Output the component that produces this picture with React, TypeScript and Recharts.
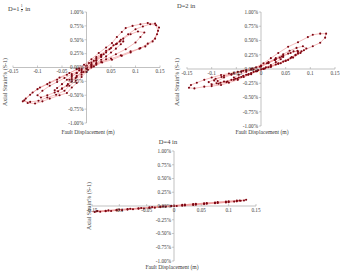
import { ReferenceLine, Scatter, ScatterChart, XAxis, YAxis } from 'recharts';
import type { CSSProperties } from 'react';

const PAGE_W = 344;
const PAGE_H = 272;
const FONT = '"Liberation Serif", "Times New Roman", serif';

const X_TICKS = [-0.15, -0.1, -0.05, 0, 0.05, 0.1, 0.15];
const Y_TICKS = [-1, -0.75, -0.5, -0.25, 0, 0.25, 0.5, 0.75, 1];

type Pt = [number, number]; // [fault displacement (m), axial strain (%)]

// D = 1 1/2 in : wide S-shaped loops
const LOOPS_D15: Pt[] = [
  [0, 0], [0.01, 0.05], [0.02, 0.12], [0.03, 0.19], [0.035, 0.24], [0.03, 0.23], [0.02, 0.16],
  [0.01, 0.09], [0, 0.03], [-0.01, -0.03], [-0.02, -0.1], [-0.03, -0.17], [-0.035, -0.22],
  [-0.03, -0.21], [-0.02, -0.15], [-0.01, -0.08], [0, -0.02], [0.01, 0.03],
  [0.02, 0.08], [0.03, 0.14], [0.04, 0.2], [0.05, 0.27], [0.06, 0.34], [0.07, 0.42], [0.075, 0.47],
  [0.068, 0.47], [0.06, 0.42], [0.05, 0.35], [0.04, 0.27], [0.03, 0.2], [0.02, 0.13], [0.01, 0.06],
  [0, 0], [-0.01, -0.05], [-0.02, -0.1], [-0.03, -0.15], [-0.04, -0.22], [-0.05, -0.3],
  [-0.06, -0.37], [-0.065, -0.41], [-0.058, -0.43], [-0.05, -0.38], [-0.04, -0.33], [-0.03, -0.25],
  [-0.02, -0.17], [-0.01, -0.09], [0, -0.02], [0.01, 0.02],
  [0.02, 0.07], [0.04, 0.15], [0.06, 0.24], [0.08, 0.33], [0.1, 0.45], [0.11, 0.55], [0.118, 0.63],
  [0.105, 0.65], [0.09, 0.6], [0.075, 0.52], [0.062, 0.43], [0.047, 0.33], [0.03, 0.22],
  [0.015, 0.12], [0, 0.03], [-0.015, -0.05], [-0.03, -0.12], [-0.045, -0.19], [-0.06, -0.26],
  [-0.075, -0.33], [-0.09, -0.42], [-0.1, -0.5], [-0.093, -0.54], [-0.08, -0.5], [-0.065, -0.45],
  [-0.05, -0.38], [-0.038, -0.3], [-0.022, -0.19], [-0.006, -0.08], [0.01, 0],
  [0.03, 0.1], [0.05, 0.16], [0.07, 0.22], [0.09, 0.29], [0.108, 0.34], [0.12, 0.38],
  [0.135, 0.47], [0.144, 0.6], [0.148, 0.72], [0.14, 0.79], [0.125, 0.8], [0.11, 0.78],
  [0.094, 0.75], [0.08, 0.71], [0.072, 0.64], [0.062, 0.55], [0.052, 0.44], [0.04, 0.36],
  [0.025, 0.26], [0.01, 0.15], [-0.005, 0.05], [-0.02, -0.03], [-0.04, -0.13], [-0.06, -0.22],
  [-0.08, -0.3], [-0.1, -0.39], [-0.115, -0.49], [-0.127, -0.59], [-0.12, -0.64], [-0.105, -0.65],
  [-0.09, -0.61], [-0.075, -0.56], [-0.055, -0.5], [-0.04, -0.46], [-0.03, -0.36], [-0.02, -0.28],
  [-0.01, -0.17], [0, -0.08], [0.015, 0.02],
  [0.032, 0.09], [0.052, 0.14], [0.072, 0.21], [0.09, 0.27], [0.11, 0.35], [0.125, 0.43],
  [0.14, 0.52], [0.146, 0.66], [0.142, 0.76], [0.13, 0.78], [0.115, 0.74], [0.1, 0.69],
  [0.085, 0.6], [0.07, 0.5], [0.055, 0.4], [0.04, 0.3], [0.02, 0.19], [0.005, 0.08],
  [-0.015, -0.02], [-0.035, -0.1], [-0.055, -0.18], [-0.075, -0.27], [-0.095, -0.36],
  [-0.11, -0.45], [-0.124, -0.56], [-0.13, -0.61], [-0.115, -0.62], [-0.098, -0.6],
  [-0.08, -0.54], [-0.062, -0.49], [-0.045, -0.42], [-0.035, -0.33], [-0.022, -0.24],
  [-0.01, -0.13], [0.003, -0.04], [0.02, 0.05],
];

// D = 2 in : narrower loops, dense around the origin
const LOOPS_D2: Pt[] = [
  [0, 0], [0.01, 0.03], [0.02, 0.07], [0.03, 0.12], [0.04, 0.17], [0.045, 0.21], [0.038, 0.2],
  [0.028, 0.16], [0.015, 0.1], [0, 0.04], [-0.015, -0.01], [-0.03, -0.05], [-0.045, -0.1],
  [-0.055, -0.15], [-0.048, -0.17], [-0.035, -0.14], [-0.02, -0.09], [-0.008, -0.04], [0.005, 0],
  [0.015, 0.03], [0.03, 0.08], [0.045, 0.13], [0.06, 0.19], [0.07, 0.25], [0.075, 0.3],
  [0.066, 0.31], [0.055, 0.27], [0.042, 0.22], [0.028, 0.16], [0.012, 0.1], [-0.002, 0.04],
  [-0.02, -0.01], [-0.04, -0.05], [-0.06, -0.1], [-0.075, -0.15], [-0.088, -0.21],
  [-0.082, -0.24], [-0.068, -0.22], [-0.052, -0.17], [-0.036, -0.12], [-0.02, -0.07],
  [-0.006, -0.02], [0.008, 0.01],
  [0.02, 0.04], [0.035, 0.09], [0.05, 0.14], [0.065, 0.2], [0.08, 0.28], [0.092, 0.36],
  [0.085, 0.4], [0.072, 0.37], [0.058, 0.32], [0.045, 0.26], [0.03, 0.19], [0.015, 0.12],
  [0, 0.06], [-0.018, 0.01], [-0.036, -0.03], [-0.055, -0.07], [-0.075, -0.12], [-0.092, -0.17],
  [-0.106, -0.23], [-0.1, -0.27], [-0.086, -0.26], [-0.07, -0.23], [-0.055, -0.19],
  [-0.04, -0.14], [-0.025, -0.09], [-0.01, -0.04], [0.005, 0],
  [0.02, 0.04], [0.04, 0.1], [0.055, 0.16], [0.07, 0.24], [0.087, 0.33], [0.105, 0.4],
  [0.12, 0.46], [0.13, 0.55], [0.132, 0.62], [0.12, 0.62], [0.105, 0.6], [0.095, 0.56],
  [0.075, 0.47], [0.055, 0.39], [0.035, 0.28], [0.02, 0.19], [0.005, 0.1], [-0.01, 0.03],
  [-0.03, -0.02], [-0.047, -0.05], [-0.065, -0.08], [-0.081, -0.105], [-0.1, -0.15],
  [-0.115, -0.19], [-0.13, -0.24], [-0.142, -0.28], [-0.146, -0.33], [-0.135, -0.34],
  [-0.115, -0.31], [-0.1, -0.3], [-0.081, -0.28], [-0.065, -0.24], [-0.047, -0.19],
  [-0.026, -0.1], [-0.01, -0.04], [0.005, 0.01],
  [0.02, 0.05], [0.035, 0.1], [0.05, 0.15], [0.062, 0.21], [0.075, 0.27], [0.082, 0.31],
  [0.074, 0.32], [0.06, 0.28], [0.045, 0.23], [0.03, 0.17], [0.015, 0.11], [0, 0.05],
  [-0.02, 0], [-0.04, -0.04], [-0.06, -0.09], [-0.08, -0.14], [-0.095, -0.2], [-0.09, -0.25],
  [-0.075, -0.22], [-0.06, -0.19], [-0.045, -0.15], [-0.03, -0.1], [-0.015, -0.05], [0, -0.01],
];

// D = 4 in : almost linear, very thin band
const LOOPS_D4: Pt[] = [
  [0, 0], [0.02, 0.01], [0.04, 0.025], [0.06, 0.04], [0.08, 0.055], [0.1, 0.07], [0.115, 0.085],
  [0.128, 0.1], [0.132, 0.115], [0.12, 0.1], [0.1, 0.085], [0.08, 0.07], [0.06, 0.055],
  [0.04, 0.04], [0.02, 0.025], [0, 0.01], [-0.02, -0.005], [-0.04, -0.02], [-0.06, -0.035],
  [-0.08, -0.05], [-0.1, -0.065], [-0.12, -0.08], [-0.14, -0.09], [-0.152, -0.1],
  [-0.145, -0.11], [-0.125, -0.095], [-0.105, -0.08], [-0.085, -0.065], [-0.065, -0.05],
  [-0.045, -0.035], [-0.025, -0.02], [-0.005, -0.005],
  [0.015, 0.005], [0.035, 0.02], [0.055, 0.035], [0.075, 0.05], [0.095, 0.065], [0.11, 0.08],
  [0.122, 0.095], [0.115, 0.1], [0.095, 0.08], [0.075, 0.065], [0.055, 0.05], [0.035, 0.035],
  [0.015, 0.02], [-0.005, 0.005], [-0.025, -0.01], [-0.045, -0.025], [-0.065, -0.04],
  [-0.085, -0.055], [-0.105, -0.07], [-0.125, -0.085], [-0.142, -0.095], [-0.135, -0.105],
  [-0.115, -0.09], [-0.095, -0.075], [-0.075, -0.06], [-0.055, -0.045], [-0.035, -0.03],
  [-0.015, -0.012], [0.005, 0],
];

const LINE_COLOR = '#ef8f8f';
const DOT_COLOR = '#7d0612';
const AXIS_COLOR = '#a6a6a6';
const TEXT_COLOR = '#3a3a3a';

// axes need a non-zero size or Recharts skips drawing them
const AXIS_SIZE = 1;

interface PanelProps {
  points: Pt[];
  left: number;
  top: number;
  width: number;
  height: number;
}

function LoopPanel({ points, left, top, width, height }: PanelProps) {
  const zeroX = left + width / 2;
  const zeroY = top + height / 2;
  const data = points.map(([x, y]) => ({ x, y }));

  return (
    <div style={{ position: 'absolute', left: 0, top: 0 }}>
      <ScatterChart
        width={PAGE_W}
        height={PAGE_H}
        margin={{
          top,
          left: left - AXIS_SIZE,
          right: PAGE_W - left - width,
          bottom: PAGE_H - top - height - AXIS_SIZE,
        }}
      >
        <XAxis
          type="number"
          dataKey="x"
          domain={[-0.15, 0.15]}
          ticks={X_TICKS}
          interval={0}
          height={AXIS_SIZE}
          axisLine={false}
          tickLine={false}
          allowDataOverflow
          tick={(p: any) => (
            <g>
              <line x1={p.x} x2={p.x} y1={zeroY - 2} y2={zeroY} stroke={AXIS_COLOR} strokeWidth={0.6} />
              <text
                x={p.x}
                y={zeroY + 5.5}
                textAnchor="middle"
                fontSize={5.2}
                fontFamily={FONT}
                fill={TEXT_COLOR}
              >
                {String(p.payload.value)}
              </text>
            </g>
          )}
        />
        <YAxis
          type="number"
          dataKey="y"
          domain={[-1, 1]}
          ticks={Y_TICKS}
          interval={0}
          width={AXIS_SIZE}
          axisLine={false}
          tickLine={false}
          allowDataOverflow
          tick={(p: any) => (
            <g>
              <line x1={zeroX - 2} x2={zeroX} y1={p.y} y2={p.y} stroke={AXIS_COLOR} strokeWidth={0.6} />
              <text
                x={zeroX - 3}
                y={p.y}
                dy="0.35em"
                textAnchor="end"
                fontSize={5.2}
                fontFamily={FONT}
                fill={TEXT_COLOR}
              >
                {`${Number(p.payload.value).toFixed(2)}%`}
              </text>
            </g>
          )}
        />
        <ReferenceLine x={0} stroke={AXIS_COLOR} strokeWidth={0.7} />
        <ReferenceLine y={0} stroke={AXIS_COLOR} strokeWidth={0.7} />
        <Scatter
          data={data}
          line={{ stroke: LINE_COLOR, strokeWidth: 0.6 }}
          isAnimationActive={false}
          shape={(s: any) => <circle cx={s.cx} cy={s.cy} r={1.05} fill={DOT_COLOR} />}
        />
      </ScatterChart>
    </div>
  );
}

const textBase: CSSProperties = {
  position: 'absolute',
  fontFamily: FONT,
  color: TEXT_COLOR,
  whiteSpace: 'nowrap',
  lineHeight: 1,
};

function AxisTitleX({ cx, cy }: { cx: number; cy: number }) {
  return (
    <div style={{ ...textBase, left: cx, top: cy, fontSize: 5.6, transform: 'translate(-50%, -50%)' }}>
      Fault Displacement (m)
    </div>
  );
}

function AxisTitleY({ cx, cy }: { cx: number; cy: number }) {
  return (
    <div
      style={{
        ...textBase,
        left: cx,
        top: cy,
        fontSize: 6,
        transform: 'translate(-50%, -50%) rotate(-90deg)',
      }}
    >
      Axial Strain% (S-1)
    </div>
  );
}

export default function App() {
  return (
    <div
      style={{
        position: 'absolute',
        left: 0,
        top: 0,
        width: PAGE_W,
        height: PAGE_H,
        background: '#fff',
        overflow: 'hidden',
      }}
    >
      <LoopPanel points={LOOPS_D15} left={13} top={12} width={147} height={111} />
      <LoopPanel points={LOOPS_D2} left={187} top={12} width={148} height={114} />
      <LoopPanel points={LOOPS_D4} left={92} top={151} width={164} height={110} />

      <div style={{ ...textBase, left: 8, top: 5, fontSize: 6.5, display: 'flex', alignItems: 'center' }}>
        D=1
        <span
          style={{
            display: 'inline-flex',
            flexDirection: 'column',
            alignItems: 'center',
            fontSize: 3.8,
            margin: '0 1px',
          }}
        >
          <span>1</span>
          <span style={{ borderTop: `0.5px solid ${TEXT_COLOR}`, paddingTop: 0.3 }}>2</span>
        </span>
        &nbsp;in
      </div>
      <div style={{ ...textBase, left: 177, top: 3, fontSize: 6.5 }}>D=2 in</div>
      <div style={{ ...textBase, left: 168, top: 142, fontSize: 6.5, transform: 'translate(-50%, -50%)' }}>
        D=4 in
      </div>

      <AxisTitleY cx={5} cy={82} />
      <AxisTitleX cx={88} cy={133} />
      <AxisTitleY cx={177} cy={82} />
      <AxisTitleX cx={262} cy={133} />
      <AxisTitleY cx={89} cy={206} />
      <AxisTitleX cx={172} cy={268} />
    </div>
  );
}
